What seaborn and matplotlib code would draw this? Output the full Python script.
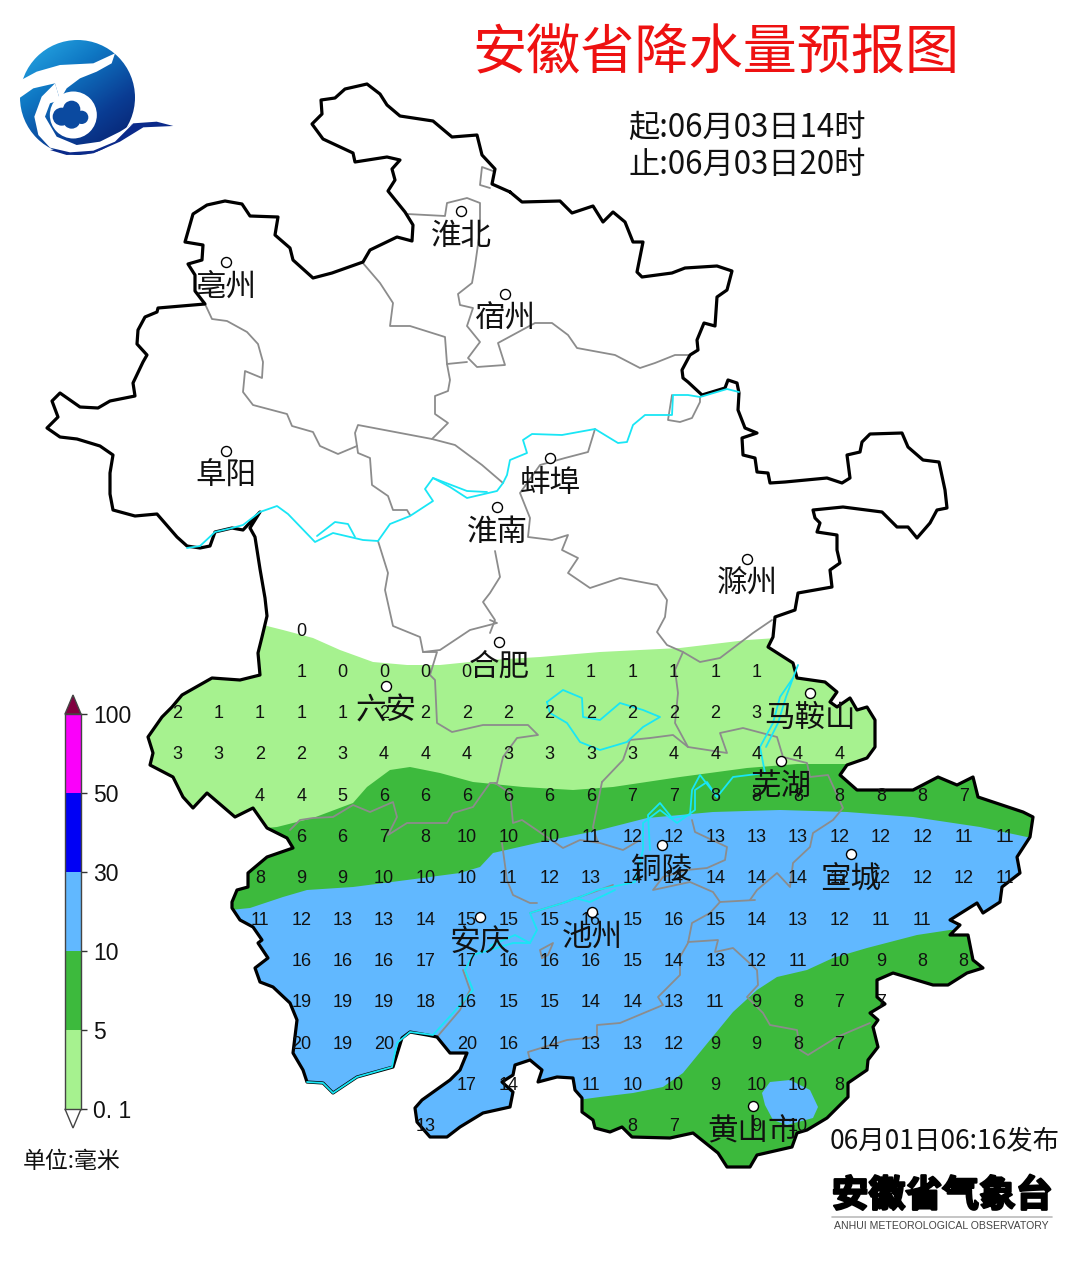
import numpy as np
import pandas as pd
import seaborn as sns
import matplotlib.pyplot as plt
from matplotlib.colors import ListedColormap, LinearSegmentedColormap
from matplotlib.patches import Polygon, Circle
import matplotlib.patheffects as pe

sns.set_theme(style='white')
plt.rcParams['font.family'] = ['Noto Sans CJK SC', 'DejaVu Sans']

# province outline, map coordinates
border = [(510,192),(522,202),(560,201),(572,213),(593,206),(603,222),(613,212),(625,222),(633,242),(643,242),
 (637,272),(642,277),(672,273),(685,268),(717,266),(732,271),(727,290),(717,297),(715,326),(704,323),(697,340),
 (698,350),(690,355),(682,370),(683,378),(688,382),(702,395),(725,388),(728,380),(737,383),(739,393),(738,410),
 (745,428),(757,433),(742,438),(743,455),(755,458),(757,472),(768,473),(770,483),(785,482),(827,478),(842,483),
 (850,478),(847,455),(860,452),(862,442),(870,434),(902,433),(908,447),(923,460),(939,462),(945,490),(947,508),
 (937,510),(930,523),(917,538),(908,527),(897,527),(882,512),(843,507),(813,510),(815,518),(820,523),(817,532),
 (837,535),(837,550),(840,563),(830,570),(832,587),(798,593),(795,610),(775,617),(773,637),(768,647),(793,663),
 (797,678),(825,682),(837,692),(830,702),(837,707),(850,698),(857,710),(867,707),(875,720),(875,747),(867,758),
 (847,765),(840,775),(857,790),(913,790),(938,777),(957,785),(973,777),(978,797),(1023,812),(1033,817),(1030,837),
 (1017,857),(1020,873),(1002,887),(1000,902),(983,913),(977,903),(950,920),(960,925),(950,935),(968,935),(973,960),
 (983,968),(967,973),(948,985),(933,985),(893,973),(877,980),(877,997),(885,1004),(870,1013),(878,1020),(873,1027),
 (878,1047),(868,1060),(867,1070),(848,1083),(848,1097),(827,1118),(807,1130),(797,1133),(792,1147),(757,1155),
 (750,1167),(727,1167),(718,1153),(693,1133),(670,1138),(632,1137),(622,1127),(610,1132),(595,1128),(593,1120),
 (582,1112),(582,1098),(575,1090),(573,1078),(557,1077),(538,1082),(542,1070),(530,1060),(515,1065),(513,1075),
 (502,1082),(513,1092),(510,1107),(483,1113),(460,1127),(447,1137),(430,1137),(417,1122),(415,1108),(422,1100),
 (450,1080),(460,1070),(467,1053),(450,1053),(437,1037),(427,1035),(410,1032),(402,1038),(393,1067),(357,1077),
 (333,1093),(323,1083),(307,1082),(303,1070),(293,1053),(297,1020),(290,1003),(273,987),(260,982),(255,968),
 (268,958),(258,943),(262,940),(253,927),(240,920),(232,908),(232,902),(237,890),(248,887),(248,873),(267,857),
 (293,848),(287,838),(267,828),(253,808),(235,817),(207,793),(193,808),(183,797),(173,777),(150,765),(153,753),
 (148,737),(162,717),(172,707),(182,695),(212,678),(240,680),(260,675),(258,653),(262,637),(267,616),(265,598),
 (260,569),(255,537),(250,528),(260,512),(243,530),(232,528),(215,532),(210,546),(200,548),(187,546),(177,537),
 (157,514),(135,516),(113,510),(110,494),(110,473),(113,455),(100,446),(77,439),(60,437),(47,428),(58,417),
 (52,401),(60,393),(80,407),(98,408),(110,401),(135,396),(133,383),(143,362),(147,355),(137,344),(138,330),
 (145,317),(157,312),(158,308),(205,304),(195,291),(195,275),(188,264),(202,260),(203,245),(185,242),(193,214),
 (207,205),(225,201),(242,204),(250,216),(278,217),(275,235),(290,248),(293,260),(313,278),(332,273),(363,262),
 (370,250),(397,237),(412,241),(413,225),(405,212),(388,191),(395,180),(392,169),(400,160),(387,157),(355,162),
 (353,153),(323,139),(312,124),(322,114),(321,100),(335,98),(345,89),(367,84),(380,94),(387,105),(400,116),
 (433,121),(452,137),(477,135),(482,155),(495,169),(492,184),(510,192)]

# prefecture boundaries
city_lines = [
 [(205,304),(212,319),(227,321),(247,332),(258,344),(263,362),(262,378),(245,371),(243,392),(253,405),(287,414),
  (292,426),(313,432),(320,446),(338,454),(357,446),(355,433),(358,425),(432,439),(455,445),(482,465),(503,483)],
 [(357,446),(358,453),(370,458),(372,485),(388,496),(393,510),(407,510),(410,515)],
 [(362,262),(380,283),(393,303),(390,326),(410,326),(445,337),(447,364),(450,380),(448,391),(435,396),(435,414),(448,423),(432,439)],
 [(407,214),(445,216),(447,203),(467,198),(480,203),(480,230),(475,266),(472,283),(458,294),(460,305),(473,308),
  (467,326),(480,342),(468,358),(477,367),(505,365),(498,343),(535,323),(552,323),(568,335),(577,348),(615,355),
  (640,368),(655,363),(675,355),(688,355)],
 [(447,364),(467,362)],
 [(493,171),(482,167),(480,185),(490,188)],
 [(595,429),(588,452),(565,458),(540,465),(520,493),(530,518),(528,537),(552,540),(568,535),(562,550),(578,558),
  (568,573),(590,588),(620,578),(657,585),(667,600),(665,617),(657,632),(667,645),(683,652),(700,662),(720,658),(753,633),(772,620)],
 [(683,652),(675,670),(678,693),(675,723),(688,747),(727,753),(720,733),(743,728),(777,737),(783,757),(807,763),
  (810,777),(828,775),(843,808),(833,820),(813,833),(810,847),(793,863),(790,887),(777,873),(757,890),(750,900)],
 [(672,395),(668,420),(680,422),(692,418),(700,402),(700,397)],
 [(495,551),(500,577),(490,593),(483,602),(495,620),(490,633)],
 [(378,541),(388,573),(385,590),(393,626),(420,637),(423,652),(440,650),(470,630),(497,623),(490,620)],
 [(423,652),(437,652),(430,675),(435,680),(437,723),(452,732),(483,725),(528,725),(538,735),(517,738),(503,757),
  (497,783),(490,783),(480,797),(473,807),(453,813),(447,823),(407,823),(388,835),(397,817),(393,802),(370,812),
  (353,805),(333,817),(313,818),(300,820),(290,830)],
 [(495,783),(510,793),(513,823),(522,820),(563,848),(580,840),(600,843),(623,850),(640,840)],
 [(502,843),(507,880),(513,895),(530,903),(537,903)],
 [(602,782),(623,760),(630,740),(650,738),(673,735),(688,747)],
 [(602,782),(597,807),(593,827),(597,840)],
 [(692,820),(695,832),(727,847),(725,860),(707,868),(687,870),(663,877),(653,890),(690,882),(713,892),(720,902),
  (710,913),(692,923),(688,943),(680,957),(680,975),(658,997),(663,1005),(620,1023),(597,1025),(597,1037),(567,1040),(528,1052),(530,1060)],
 [(720,902),(755,900)],
 [(688,942),(718,940),(715,952),(733,948),(757,970),(758,985),(747,997),(763,1013),(770,1025),(797,1030),(800,1050),(808,1055),(837,1037),(870,1023)],
 [(542,958),(540,950),(553,943),(548,955),(542,958)],
 [(463,970),(470,990),(460,1010),(437,1037)],
 [(530,913),(563,903),(613,885)],
]

# rivers
rivers = [
 [(187,548),(200,546),(215,532),(232,528),(243,525),(260,512),(277,506),(288,514),(315,542),(333,533),(363,540),
  (378,541),(390,524),(410,516),(433,501),(425,489),(433,478),(450,487),(467,498),(497,491),(503,483),(507,475),
  (510,460),(527,453),(523,440),(532,434),(562,435),(595,429),(618,443),(627,442),(633,425),(645,415),(672,415),
  (673,395),(688,395),(700,397),(727,389),(739,392)],
 [(317,536),(335,522),(348,524),(355,537)],
 [(433,478),(467,491),(487,492)],
 [(547,702),(563,690),(582,698),(583,717),(600,720),(620,703),(643,710),(660,717),(643,727),(627,742),(600,750),
  (580,742),(567,723),(550,713),(547,702)],
 [(798,665),(793,678),(780,697),(773,723),(760,747),(765,773),(733,777),(717,797),(707,782),(695,790),(695,810),
  (677,823),(660,810),(643,823),(643,850),(635,882),(597,890),(580,897),(563,903),(530,913),(537,930),(530,943),
  (513,943),(473,955),(465,970),(473,990),(453,1013),(433,1035),(410,1032),(397,1043),(392,1067),(357,1077),
  (333,1093),(323,1083),(307,1082)],
 [(793,678),(786,697),(778,723),(766,747)],
 [(717,797),(700,775),(692,790),(690,815),(672,818),(660,803),(648,815),(650,850)],
 [(615,890),(590,902),(575,898),(563,903)],
 [(530,943),(515,935),(490,946)],
]

# rain areas
edge_light = [(140,640),(263,625),(283,630),(313,638),(340,650),(373,662),(407,665),(440,665),(490,660),(540,657),
              (600,652),(680,648),(747,640),(777,638),(1040,638)]
edge_green = [(140,840),(277,827),(313,818),(353,803),(367,787),(390,770),(410,767),(440,773),(473,782),(523,787),
              (573,790),(613,787),(680,777),(747,768),(797,764),(847,764),(1040,764)]
edge_blue = [(210,912),(250,908),(283,897),(307,890),(353,887),(407,880),(460,873),(480,867),(493,853),(537,843),
             (600,830),(647,818),(713,812),(780,810),(847,812),(913,817),(980,827),(1027,837),(1040,838)]
edge_south = [(570,1101),(600,1097),(633,1093),(663,1087),(683,1073),(710,1040),(733,1012),(757,990),(777,977),
              (807,970),(833,958),(867,948),(917,935),(950,930),(990,930)]
hole_blue = [(762,1093),(770,1082),(790,1080),(810,1090),(818,1107),(813,1118),(787,1125),(773,1120),(765,1105)]

# forecast grid
grid_rows = [
 [None,None,None,0]+[None]*17,
 [None,None,None,1,0,0,0,0,None,1,1,1,1,1,1]+[None]*6,
 [2,1,1,1,1,2,2,2,2,2,2,2,2,2,3]+[None]*6,
 [3,3,2,2,3,4,4,4,3,3,3,3,4,4,4,4,4]+[None]*4,
 [None,None,4,4,5,6,6,6,6,6,6,7,7,8,8,8,8,8,8,7,None],
 [None,None,None,6,6,7,8,10,10,10,11,12,12,13,13,13,12,12,12,11,11],
 [None,None,8,9,9,10,10,10,11,12,13,14,14,14,14,14,12,12,12,12,11],
 [None,None,11,12,13,13,14,15,15,15,16,15,16,15,14,13,12,11,11,None,None],
 [None,None,None,16,16,16,17,17,16,16,16,15,14,13,12,11,10,9,8,8,None],
 [None,None,None,19,19,19,18,16,15,15,14,14,13,11,9,8,7,7,None,None,None],
 [None,None,None,20,19,20,None,20,16,14,13,13,12,9,9,8,7,None,None,None,None],
 [None,None,None,None,None,None,None,17,14,None,11,10,10,9,10,10,8,None,None,None,None],
 [None,None,None,None,None,None,13,None,None,None,None,8,7,None,9,10,None,None,None,None,None],
]

city_names = ['淮北','亳州','宿州','阜阳','蚌埠','淮南','滁州','合肥','六安','马鞍山','芜湖','铜陵','宣城','安庆','池州','黄山市']
city_x = [461,226,505,226,550,497,747,499,386,810,781,662,851,480,592,753]
city_y = [211,262,294,451,458,507,559,642,686,693,761,845,854,917,912,1106]

band_colors = ['#FA00FA','#0000F5','#61B8FF','#3DBA3D','#A6F28F']
band_labels = ['100','50','30','10','5','0. 1']

LIGHT, GREEN, BLUE = '#A6F28F', '#3DBA3D', '#61B8FF'
TXT = '#111111'

fig = plt.figure(figsize=(10.8, 12.65), dpi=100, facecolor='white')
ax = fig.add_axes([0, 0, 1, 1])

def band(edge, bottom, color):
    pts = edge + [(edge[-1][0], bottom), (edge[0][0], bottom)]
    p = Polygon(pts, closed=True, fc=color, ec='none', zorder=1)
    ax.add_patch(p)
    p.set_clip_path(clip)

def trace(pts, color, lw, z):
    df = pd.DataFrame(pts, columns=['x', 'y'])
    sns.lineplot(data=df, x='x', y='y', sort=False, estimator=None, color=color,
                 lw=lw, ax=ax, legend=False, zorder=z, solid_joinstyle='round')

clip = Polygon(border, closed=True, transform=ax.transData, fc='white', ec='none', zorder=0)
ax.add_patch(clip)

band(edge_light, 1200, LIGHT)
band(edge_green, 1200, GREEN)
band(edge_blue, 1200, BLUE)
band(edge_south, 1200, GREEN)
hole = Polygon(hole_blue, closed=True, fc=BLUE, ec='none', zorder=1)
ax.add_patch(hole)

for line in city_lines:
    trace(line, '#8c8c8c', 1.3, 2)
trace(border, 'black', 2.3, 3)
for line in rivers:
    trace(line, '#19e6f5', 1.3, 4)

# forecast numbers
grid_x = 177 + 41.4 * np.arange(21)
grid_y = 631 + 41.33 * np.arange(13)
grid = pd.DataFrame(grid_rows, index=grid_y, columns=grid_x).stack().reset_index()
grid.columns = ['y', 'x', 'v']
for r in grid.itertuples():
    ax.text(r.x, r.y, str(int(r.v)), ha='center', va='center', fontsize=13,
            family='Liberation Sans', color=TXT, zorder=5)

# city markers and names
cities = pd.DataFrame({'x': city_x, 'y': city_y, 'name': city_names})
sns.scatterplot(data=cities, x='x', y='y', s=52, color='white', edgecolor='black',
                linewidth=1, ax=ax, legend=False, zorder=6)
for r in cities.itertuples():
    ax.text(r.x, r.y + 25.5, r.name, ha='center', va='center', fontsize=22, color=TXT, zorder=7)

# titles
ax.text(716, 54, '安徽省降水量预报图', ha='center', va='center', fontsize=39, color='#ee1111')
ax.text(628, 128, '起:06月03日14时', ha='left', va='center', fontsize=22.5, color=TXT)
ax.text(628, 165, '止:06月03日20时', ha='left', va='center', fontsize=22.5, color=TXT)
ax.text(830, 1141, '06月01日06:16发布', ha='left', va='center', fontsize=19, color=TXT)
ax.text(23, 1162, '单位:毫米', ha='left', va='center', fontsize=16.5, color=TXT)

# footer mark
ax.text(942, 1196, '安徽省气象台', ha='center', va='center', fontsize=26.5, weight='bold', color='black',
        path_effects=[pe.withStroke(linewidth=1.6, foreground='black')])
trace([(832, 1217), (1052, 1217)], '#bbbbbb', 1.2, 3)
ax.text(941, 1226, 'ANHUI METEOROLOGICAL OBSERVATORY', ha='center', va='center', fontsize=7.6,
        family='Liberation Sans', color='#444444')

# logo
def lg(pts):
    return [(x / 3, 20 + y / 3) for x, y in pts]

cmap = LinearSegmentedColormap.from_list('logo', ['#2aaee8', '#0f78c4', '#0a3d94', '#071a66'])
gy, gx = np.mgrid[0:1:120j, 0:1:120j]
img = ax.imshow(gx * 0.55 + gy * 0.75, extent=(20, 135, 155, 40), cmap=cmap, zorder=8, aspect='auto')
disc = Circle((77.5, 97.5), 57.5, transform=ax.transData)
img.set_clip_path(disc)
ax.add_patch(Polygon(lg([(400,310),(470,305),(520,318),(430,322),(360,365),(280,400),(200,405),(150,390),(260,380),(340,350)]),
                     fc='#0b2a8a', ec='none', zorder=9))
ax.add_patch(Polygon(lg([(45,190),(110,155),(180,135),(280,130),(345,100),(335,130),(290,155),(240,175),(200,205),(180,240),
                         (165,190),(100,205),(50,240)]), fc='white', ec='none', zorder=9))
ax.add_patch(Polygon(lg([(165,190),(180,240),(150,250),(135,290),(170,350),(230,375),(300,365),(360,335),(400,310),(345,365),
                         (280,392),(210,397),(150,383),(115,345),(103,290),(125,230)]), fc='white', ec='none', zorder=9))
ax.add_patch(Circle((220 / 3, 20 + 285 / 3), 23.5, fc='white', ec='none', zorder=9))
for cx, cy, rad in [(185,290,27),(215,268,26),(245,292,20),(215,300,26)]:
    ax.add_patch(Circle((cx / 3, 20 + cy / 3), rad / 3, fc='#0b4aa0', ec='none', zorder=10))

# colour scale
cax = fig.add_axes([65 / 1080, 1 - 1109 / 1265, 16 / 1080, 395 / 1265])
sns.heatmap(np.arange(5).reshape(5, 1), cmap=ListedColormap(band_colors), vmin=-0.5, vmax=4.5, cbar=False, ax=cax,
            xticklabels=False)
cax.yaxis.tick_right()
cax.set_yticks(np.arange(6))
cax.set_yticklabels(band_labels, rotation=0, fontsize=16.5, family='Liberation Sans', color=TXT)
cax.tick_params(axis='y', length=4.5, width=1, color='#333333', pad=4, right=True)
for s in cax.spines.values():
    s.set_visible(True)
    s.set_color('#444444')
    s.set_linewidth(1)
ax.add_patch(Polygon([(65,714),(81,714),(73,695)], fc='#800040', ec='#444444', lw=1, zorder=3))
ax.add_patch(Polygon([(65,1109),(81,1109),(73,1128)], fc='white', ec='#444444', lw=1, zorder=3))

ax.set_xlim(0, 1080)
ax.set_ylim(1265, 0)
ax.axis('off')
plt.savefig('out.png', dpi=100, facecolor='white')
